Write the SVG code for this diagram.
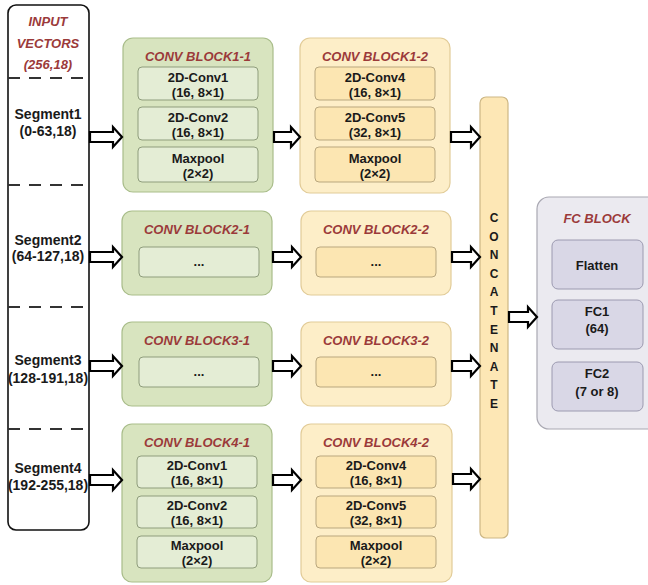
<svg xmlns="http://www.w3.org/2000/svg" width="648" height="585" viewBox="0 0 648 585">
  <style>
    .txt { font-family: "Liberation Sans", Arial, sans-serif; font-weight: bold; font-size: 13px; fill: #1a1a1a; text-anchor: middle; }
    .seg { font-family: "Liberation Sans", Arial, sans-serif; font-weight: bold; font-size: 14px; fill: #1a1a1a; text-anchor: middle; }
    .title { font-family: "Liberation Sans", Arial, sans-serif; font-weight: bold; font-style: italic; font-size: 13px; fill: #9b3a3a; text-anchor: middle; }
    .cat { font-family: "Liberation Sans", Arial, sans-serif; font-weight: bold; font-size: 12px; fill: #1a1a1a; text-anchor: middle; }
    .green { fill: #d8e4bf; stroke: #a9bd8a; stroke-width: 1.2; }
    .green-in { fill: #e4edd5; stroke: #8f9d7c; stroke-width: 1; }
    .yellow { fill: #fdeec8; stroke: #e2cc98; stroke-width: 1.2; }
    .yellow-in { fill: #fce6b2; stroke: #b9a77e; stroke-width: 1; }
    .concat { fill: #fde7b5; stroke: #cdb785; stroke-width: 1.2; }
    .fc { fill: #ebeaf0; stroke: #a9a8b2; stroke-width: 1.2; }
    .fc-in { fill: #d9d7e6; stroke: #9c9ab0; stroke-width: 1; }
    .arrow { fill: #ffffff; stroke: #000000; stroke-width: 2.2; stroke-linejoin: miter; }
    .dash { stroke: #333333; stroke-width: 2; stroke-dasharray: 12 9; }
  </style>

  <!-- input column -->
  <g id="input">
    <rect x="8" y="5" width="81" height="525" rx="8" fill="#ffffff" stroke="#111111" stroke-width="1.6"/>
    <text class="title" x="48" y="26">INPUT</text>
    <text class="title" x="48" y="48">VECTORS</text>
    <text class="title" x="48" y="69">(256,18)</text>
    <line class="dash" x1="8" y1="78" x2="89" y2="78"/>
    <line class="dash" x1="8" y1="185" x2="89" y2="185"/>
    <line class="dash" x1="8" y1="307" x2="89" y2="307"/>
    <line class="dash" x1="8" y1="429" x2="89" y2="429"/>
    <text class="seg" x="48" y="119">Segment1</text>
    <text class="seg" x="48" y="136">(0-63,18)</text>
    <text class="seg" x="48" y="245">Segment2</text>
    <text class="seg" x="48" y="261">(64-127,18)</text>
    <text class="seg" x="48" y="365">Segment3</text>
    <text class="seg" x="48" y="383">(128-191,18)</text>
    <text class="seg" x="48" y="473">Segment4</text>
    <text class="seg" x="48" y="490">(192-255,18)</text>
  </g>

  <!-- row 1 -->
  <g id="block1-1">
    <rect class="green" x="123" y="38" width="150" height="154" rx="10"/>
    <text class="title" x="198" y="61">CONV BLOCK1-1</text>
    <rect class="green-in" x="138" y="67" width="120" height="33" rx="4"/>
    <text class="txt" x="198" y="82">2D-Conv1</text>
    <text class="txt" x="198" y="97">(16, 8×1)</text>
    <rect class="green-in" x="138" y="107" width="120" height="33" rx="4"/>
    <text class="txt" x="198" y="122">2D-Conv2</text>
    <text class="txt" x="198" y="137">(16, 8×1)</text>
    <rect class="green-in" x="138" y="147" width="120" height="35" rx="4"/>
    <text class="txt" x="198" y="163">Maxpool</text>
    <text class="txt" x="198" y="178">(2×2)</text>
  </g>
  <g id="block1-2">
    <rect class="yellow" x="300" y="38" width="150" height="155" rx="10"/>
    <text class="title" x="375" y="61">CONV BLOCK1-2</text>
    <rect class="yellow-in" x="315" y="67" width="120" height="33" rx="4"/>
    <text class="txt" x="375" y="82">2D-Conv4</text>
    <text class="txt" x="375" y="97">(16, 8×1)</text>
    <rect class="yellow-in" x="315" y="107" width="120" height="33" rx="4"/>
    <text class="txt" x="375" y="122">2D-Conv5</text>
    <text class="txt" x="375" y="137">(32, 8×1)</text>
    <rect class="yellow-in" x="315" y="147" width="120" height="35" rx="4"/>
    <text class="txt" x="375" y="163">Maxpool</text>
    <text class="txt" x="375" y="178">(2×2)</text>
  </g>

  <!-- row 2 -->
  <g id="block2-1">
    <rect class="green" x="122" y="211" width="150" height="84" rx="10"/>
    <text class="title" x="197" y="234">CONV BLOCK2-1</text>
    <rect class="green-in" x="139" y="247" width="120" height="30" rx="4"/>
    <text class="txt" x="199" y="266">...</text>
  </g>
  <g id="block2-2">
    <rect class="yellow" x="301" y="211" width="150" height="84" rx="10"/>
    <text class="title" x="376" y="234">CONV BLOCK2-2</text>
    <rect class="yellow-in" x="316" y="247" width="120" height="30" rx="4"/>
    <text class="txt" x="376" y="266">...</text>
  </g>

  <!-- row 3 -->
  <g id="block3-1">
    <rect class="green" x="122" y="322" width="150" height="84" rx="10"/>
    <text class="title" x="197" y="345">CONV BLOCK3-1</text>
    <rect class="green-in" x="139" y="357" width="120" height="30" rx="4"/>
    <text class="txt" x="199" y="376">...</text>
  </g>
  <g id="block3-2">
    <rect class="yellow" x="301" y="322" width="150" height="84" rx="10"/>
    <text class="title" x="376" y="345">CONV BLOCK3-2</text>
    <rect class="yellow-in" x="316" y="357" width="120" height="30" rx="4"/>
    <text class="txt" x="376" y="376">...</text>
  </g>

  <!-- row 4 -->
  <g id="block4-1">
    <rect class="green" x="122" y="424" width="150" height="158" rx="10"/>
    <text class="title" x="197" y="447">CONV BLOCK4-1</text>
    <rect class="green-in" x="137" y="456" width="120" height="32" rx="4"/>
    <text class="txt" x="197" y="470">2D-Conv1</text>
    <text class="txt" x="197" y="485">(16, 8×1)</text>
    <rect class="green-in" x="137" y="496" width="120" height="32" rx="4"/>
    <text class="txt" x="197" y="510">2D-Conv2</text>
    <text class="txt" x="197" y="525">(16, 8×1)</text>
    <rect class="green-in" x="137" y="536" width="120" height="32" rx="4"/>
    <text class="txt" x="197" y="550">Maxpool</text>
    <text class="txt" x="197" y="565">(2×2)</text>
  </g>
  <g id="block4-2">
    <rect class="yellow" x="301" y="424" width="151" height="158" rx="10"/>
    <text class="title" x="376" y="447">CONV BLOCK4-2</text>
    <rect class="yellow-in" x="316" y="456" width="120" height="32" rx="4"/>
    <text class="txt" x="376" y="470">2D-Conv4</text>
    <text class="txt" x="376" y="485">(16, 8×1)</text>
    <rect class="yellow-in" x="316" y="496" width="120" height="32" rx="4"/>
    <text class="txt" x="376" y="510">2D-Conv5</text>
    <text class="txt" x="376" y="525">(32, 8×1)</text>
    <rect class="yellow-in" x="316" y="536" width="120" height="32" rx="4"/>
    <text class="txt" x="376" y="550">Maxpool</text>
    <text class="txt" x="376" y="565">(2×2)</text>
  </g>

  <!-- concatenation bar -->
  <g id="concatenate">
    <rect class="concat" x="480" y="97" width="28" height="441" rx="6"/>
    <text class="cat" x="494" y="222">C</text>
    <text class="cat" x="494" y="240.6">O</text>
    <text class="cat" x="494" y="259.2">N</text>
    <text class="cat" x="494" y="277.8">C</text>
    <text class="cat" x="494" y="296.4">A</text>
    <text class="cat" x="494" y="315">T</text>
    <text class="cat" x="494" y="333.6">E</text>
    <text class="cat" x="494" y="352.2">N</text>
    <text class="cat" x="494" y="370.8">A</text>
    <text class="cat" x="494" y="389.4">T</text>
    <text class="cat" x="494" y="408">E</text>
  </g>

  <!-- fully connected block -->
  <g id="fc-block">
    <rect class="fc" x="537" y="197" width="125" height="232" rx="12"/>
    <text class="title" x="597" y="223">FC BLOCK</text>
    <rect class="fc-in" x="552" y="240" width="91" height="49" rx="6"/>
    <text class="txt" x="597" y="270">Flatten</text>
    <rect class="fc-in" x="552" y="300" width="91" height="49" rx="6"/>
    <text class="txt" x="597" y="316">FC1</text>
    <text class="txt" x="597" y="333">(64)</text>
    <rect class="fc-in" x="552" y="362" width="91" height="49" rx="6"/>
    <text class="txt" x="597" y="378">FC2</text>
    <text class="txt" x="597" y="396">(7 or 8)</text>
  </g>

  <!-- hollow block arrows -->
  <g id="connectors">
    <path class="arrow" d="M90,132 H113 V127 L122,137 L113,147 V142 H90 Z"/>
    <path class="arrow" d="M274,132 H291 V127 L300,137 L291,147 V142 H274 Z"/>
    <path class="arrow" d="M451,132 H471 V127 L480,137 L471,147 V142 H451 Z"/>

    <path class="arrow" d="M90,252 H113 V247 L122,257 L113,267 V262 H90 Z"/>
    <path class="arrow" d="M273,252 H292 V247 L301,257 L292,267 V262 H273 Z"/>
    <path class="arrow" d="M452,252 H471 V247 L480,257 L471,267 V262 H452 Z"/>

    <path class="arrow" d="M90,361 H113 V356 L122,366 L113,376 V371 H90 Z"/>
    <path class="arrow" d="M273,361 H292 V356 L301,366 L292,376 V371 H273 Z"/>
    <path class="arrow" d="M452,361 H471 V356 L480,366 L471,376 V371 H452 Z"/>

    <path class="arrow" d="M90,475 H113 V470 L122,480 L113,490 V485 H90 Z"/>
    <path class="arrow" d="M273,475 H292 V470 L301,480 L292,490 V485 H273 Z"/>
    <path class="arrow" d="M453,474 H471 V469 L480,479 L471,489 V484 H453 Z"/>

    <path class="arrow" d="M509,312 H528 V307 L537,317 L528,327 V322 H509 Z"/>
  </g>
</svg>
